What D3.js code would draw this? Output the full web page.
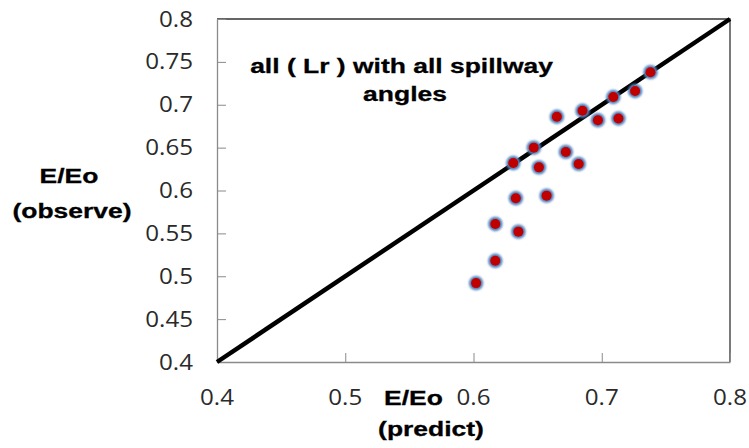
<!DOCTYPE html>
<html>
<head>
<meta charset="utf-8">
<script src="https://cdn.jsdelivr.net/npm/d3@7"></script>
<style>
  html, body { margin: 0; padding: 0; background: #fff; }
  svg { display: block; }
</style>
</head>
<body>
<svg id="chart" width="749" height="448"></svg>
<script>
// ---- data ----
const predicted = [0.602, 0.617, 0.617, 0.635, 0.633, 0.657, 0.631, 0.651, 0.647, 0.672, 0.682, 0.665, 0.685, 0.697, 0.713, 0.709, 0.726, 0.738];
const observed  = [0.492, 0.518, 0.561, 0.552, 0.591, 0.594, 0.632, 0.627, 0.650, 0.645, 0.631, 0.686, 0.693, 0.682, 0.684, 0.709, 0.716, 0.738];
const xTicks = [0.4, 0.5, 0.6, 0.7, 0.8];
const yTicks = [0.4, 0.45, 0.5, 0.55, 0.6, 0.65, 0.7, 0.75, 0.8];
const lineXY = [[0.4, 0.4], [0.8, 0.8]];
const titleLines = ["all ( Lr ) with all spillway", "angles"];
const xLabelLines = ["E/Eo", "(predict)"];
const yLabelLines = ["E/Eo", "(observe)"];

// ---- layout ----
const svg = d3.select("#chart");
const pLeft = 217, pRight = 730, pTop = 19, pBottom = 362;
const x = d3.scaleLinear().domain([0.4, 0.8]).range([pLeft, pRight]);
const y = d3.scaleLinear().domain([0.4, 0.8]).range([pBottom, pTop]);

const defs = svg.append("defs");
defs.append("filter").attr("id", "soft").attr("x", "-50%").attr("y", "-50%").attr("width", "200%").attr("height", "200%")
  .append("feGaussianBlur").attr("stdDeviation", 0.9);

// plot border (top/right dark)
svg.append("path")
  .attr("d", `M${pLeft},${pTop}H${pRight}V${pBottom}`)
  .attr("fill", "none").attr("stroke", "#333").attr("stroke-width", 1.3);

// axes
const axisColor = "#8a8a8a";
const tickFont = "'Open Sans', sans-serif";
const gx = svg.append("g").attr("transform", `translate(0,${pBottom})`)
  .call(d3.axisBottom(x).tickValues(xTicks).tickSizeInner(-9).tickSizeOuter(0).tickFormat(d3.format(".1f")));
const gy = svg.append("g").attr("transform", `translate(${pLeft},0)`)
  .call(d3.axisLeft(y).tickValues(yTicks).tickSizeInner(-9).tickSizeOuter(0).tickFormat(d3.format(".2~f")));
[gx, gy].forEach(g => {
  g.select(".domain").attr("stroke", axisColor).attr("stroke-width", 1.3);
  g.selectAll(".tick line").attr("stroke", axisColor).attr("stroke-width", 1);
  g.selectAll(".tick text").remove();
});
// tick labels (slightly wide, like the reference)
xTicks.forEach(v => {
  svg.append("text")
    .attr("transform", `translate(${x(v)},405) scale(1.15,1)`)
    .attr("text-anchor", "middle")
    .attr("font-family", tickFont).attr("font-size", 21).attr("fill", "#2a2a2a")
    .text(d3.format(".1f")(v));
});
yTicks.forEach(v => {
  svg.append("text")
    .attr("transform", `translate(193,${y(v) + 7.5}) scale(1.15,1)`)
    .attr("text-anchor", "end")
    .attr("font-family", tickFont).attr("font-size", 21).attr("fill", "#2a2a2a")
    .text(d3.format(".2~f")(v));
});

// 1:1 line
svg.append("path")
  .attr("d", d3.line().x(d => x(d[0])).y(d => y(d[1]))(lineXY))
  .attr("stroke", "#000").attr("stroke-width", 4.5).attr("fill", "none");

// points: soft blue halo + red core
const pts = predicted.map((p, i) => [p, observed[i]]);
svg.append("g").selectAll("circle")
  .data(pts).join("circle")
  .attr("cx", d => x(d[0])).attr("cy", d => y(d[1]))
  .attr("r", 7.2)
  .attr("fill", "#4f81bd")
  .attr("filter", "url(#soft)");
svg.append("g").selectAll("circle")
  .data(pts).join("circle")
  .attr("cx", d => x(d[0])).attr("cy", d => y(d[1]))
  .attr("r", 5)
  .attr("fill", "#c00000");

// bold labels
const boldFont = "'Liberation Sans', Arial, sans-serif";
function boldText(str, cx, baseline) {
  svg.append("text")
    .attr("transform", `translate(${cx},${baseline}) scale(1.26,1)`)
    .attr("text-anchor", "middle")
    .attr("font-family", boldFont).attr("font-weight", "bold").attr("font-size", 21)
    .attr("fill", "#000").attr("stroke", "#000").attr("stroke-width", 0.3)
    .text(str);
}
boldText(titleLines[0], 401.5, 73);
boldText(titleLines[1], 405, 101);
boldText(xLabelLines[0], 413.5, 405);
boldText(xLabelLines[1], 431, 436);
boldText(yLabelLines[0], 69, 183);
boldText(yLabelLines[1], 72, 218);
</script>
</body>
</html>
